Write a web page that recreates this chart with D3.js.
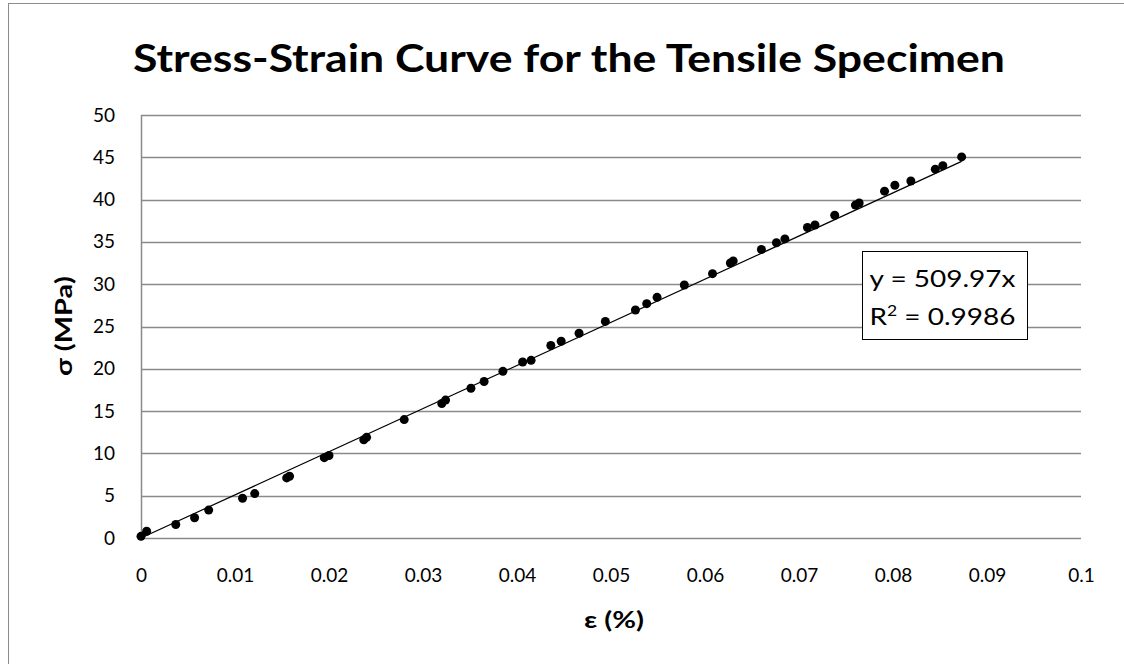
<!DOCTYPE html>
<html>
<head>
<meta charset="utf-8">
<script src="https://cdnjs.cloudflare.com/ajax/libs/d3/7.8.5/d3.min.js"></script>
<style>
  html, body { margin: 0; padding: 0; background: #fff; }
  svg { display: block; }
  text { font-family: Lato, "Open Sans", "Liberation Sans", sans-serif; fill: #000; }
</style>
</head>
<body>
<svg id="chart" width="1124" height="664"></svg>
<script>
// Measured strain (%) and stress (MPa) for the tensile specimen
const strain = [0.0000, 0.0006, 0.0037, 0.0057, 0.0072, 0.0108, 0.0121, 0.0155, 0.0158,
  0.0195, 0.0200, 0.0237, 0.0240, 0.0280, 0.0320, 0.0324, 0.0351, 0.0365, 0.0385,
  0.0406, 0.0415, 0.0436, 0.0447, 0.0466, 0.0494, 0.0526, 0.0538, 0.0549, 0.0578,
  0.0608, 0.0627, 0.0630, 0.0660, 0.0676, 0.0685, 0.0709, 0.0717, 0.0738, 0.0760,
  0.0764, 0.0791, 0.0802, 0.0819, 0.0845, 0.0853, 0.0873];
const stress = [0.2, 0.8, 1.6, 2.4, 3.3, 4.7, 5.25, 7.1, 7.3,
  9.5, 9.75, 11.6, 11.9, 14.0, 15.9, 16.3, 17.7, 18.5, 19.7,
  20.8, 21.0, 22.75, 23.25, 24.2, 25.6, 26.95, 27.7, 28.45, 29.9,
  31.25, 32.5, 32.75, 34.1, 34.9, 35.35, 36.7, 37.0, 38.15, 39.35,
  39.6, 41.0, 41.7, 42.2, 43.6, 44.0, 45.05];

// Linear trendline through the origin
const slope = 509.97;
const rSquared = 0.9986;

const xTicks = [0, 0.01, 0.02, 0.03, 0.04, 0.05, 0.06, 0.07, 0.08, 0.09, 0.1];
const yTicks = [0, 5, 10, 15, 20, 25, 30, 35, 40, 45, 50];

const title = "Stress-Strain Curve for the Tensile Specimen";
const xTitle = "ε (%)";
const yTitle = "σ (MPa)";

const svg = d3.select("#chart");
const W = 1124, H = 664;
const plot = { left: 141, right: 1081, top: 115, bottom: 538 };

const x = d3.scaleLinear().domain([0, 0.1]).range([plot.left, plot.right]);
const y = d3.scaleLinear().domain([0, 50]).range([plot.bottom, plot.top]);

// Chart frame
svg.append("rect")
  .attr("x", 8.5).attr("y", 3.5)
  .attr("width", W + 20).attr("height", H + 20)
  .attr("fill", "#fff").attr("stroke", "#8c8c8c").attr("stroke-width", 1);

// Title
svg.append("text")
  .attr("x", 569).attr("y", 72)
  .attr("text-anchor", "middle")
  .attr("font-size", 39).attr("font-weight", "bold")
  .attr("textLength", 872).attr("lengthAdjust", "spacingAndGlyphs")
  .text(title);

// Horizontal gridlines + y axis labels
const yAxis = d3.axisLeft(y).tickValues(yTicks).tickSize(0).tickPadding(26)
  .tickFormat(d3.format("d"));
const gy = svg.append("g").attr("transform", `translate(${plot.left},0)`).call(yAxis);
gy.select(".domain").remove();
gy.selectAll("text").attr("font-size", 19).attr("font-family", "Lato, sans-serif").attr("fill", "#111");

svg.append("g").selectAll("line").data(yTicks).join("line")
  .attr("x1", plot.left).attr("x2", plot.right)
  .attr("y1", d => Math.round(y(d)) + 0.5).attr("y2", d => Math.round(y(d)) + 0.5)
  .attr("stroke", "#8a8a8a").attr("stroke-width", 1.5);

// x axis labels
const xAxis = d3.axisBottom(x).tickValues(xTicks).tickSize(0).tickPadding(31)
  .tickFormat(d => d === 0 ? "0" : String(+d.toFixed(2)));
const gx = svg.append("g").attr("transform", `translate(0,${plot.bottom})`).call(xAxis);
gx.select(".domain").remove();
gx.selectAll("text").attr("font-size", 19).attr("font-family", "Lato, sans-serif").attr("fill", "#111");

// Vertical axis line
svg.append("line")
  .attr("x1", plot.left + 0.5).attr("x2", plot.left + 0.5)
  .attr("y1", plot.top).attr("y2", plot.bottom + 1)
  .attr("stroke", "#8a8a8a").attr("stroke-width", 1.5);

// Axis titles
svg.append("text")
  .attr("x", 614).attr("y", 628)
  .attr("text-anchor", "middle")
  .attr("font-size", 22).attr("font-weight", "bold")
  .attr("textLength", 60).attr("lengthAdjust", "spacingAndGlyphs")
  .text(xTitle);

svg.append("text")
  .attr("transform", `translate(72,326) rotate(-90)`)
  .attr("text-anchor", "middle")
  .attr("font-size", 22).attr("font-weight", "bold")
  .attr("textLength", 100).attr("lengthAdjust", "spacingAndGlyphs")
  .text(yTitle);

// Data points
const pts = strain.map((s, i) => ({ s, v: stress[i] }));
svg.append("g").selectAll("circle").data(pts).join("circle")
  .attr("cx", d => x(d.s)).attr("cy", d => y(d.v))
  .attr("r", 4.5).attr("fill", "#000");

// Trendline across the measured range
const xMax = d3.max(strain);
svg.append("line")
  .attr("x1", x(0)).attr("y1", y(0))
  .attr("x2", x(xMax)).attr("y2", y(slope * xMax))
  .attr("stroke", "#000").attr("stroke-width", 1.2);

// Trendline equation box
const box = svg.append("g").attr("transform", "translate(862.5,251.5)");
box.append("rect").attr("width", 165).attr("height", 88)
  .attr("fill", "#fff").attr("stroke", "#000").attr("stroke-width", 1);
box.append("text").attr("x", 7).attr("y", 35).attr("font-size", 24)
  .attr("textLength", 146).attr("lengthAdjust", "spacingAndGlyphs")
  .text(`y = ${slope}x`);
const r2 = box.append("text").attr("x", 7).attr("y", 73).attr("font-size", 24)
  .attr("textLength", 146).attr("lengthAdjust", "spacingAndGlyphs");
r2.append("tspan").text("R");
r2.append("tspan").attr("dy", -9).attr("font-size", 15).text("2");
r2.append("tspan").attr("dy", 9).text(` = ${rSquared}`);
</script>
</body>
</html>
